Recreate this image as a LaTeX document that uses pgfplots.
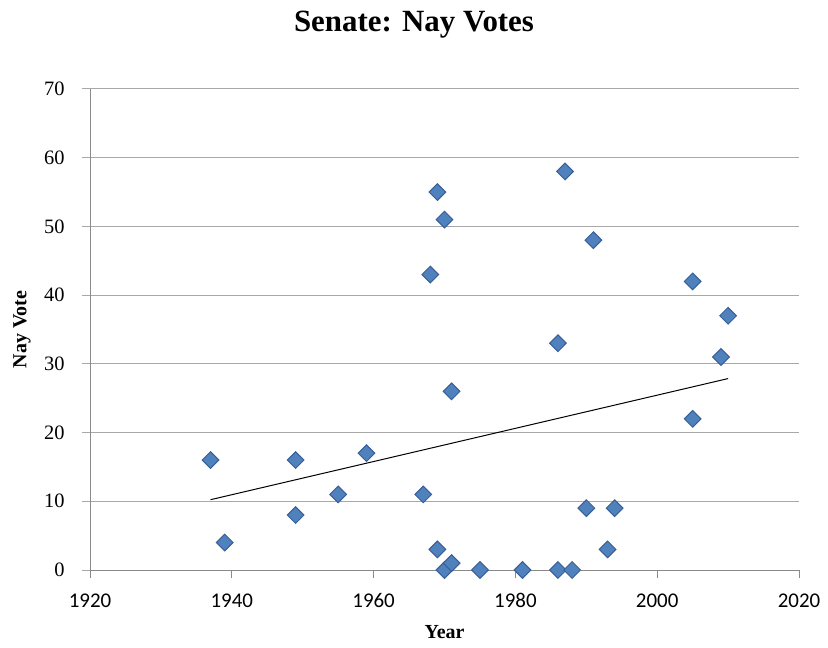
\documentclass[border=0pt]{standalone}
\usepackage{fontspec}
\setmainfont{Liberation Serif}
\newfontfamily\calibri{Carlito}
\usepackage{pgfplots}
\usepackage{pgfplotstable}
\pgfplotsset{compat=1.18}
\definecolor{markfill}{HTML}{4F81BD}
\definecolor{markedge}{HTML}{3A5E96}
\definecolor{gridc}{HTML}{A8A8A8}
\definecolor{axisc}{HTML}{8A8A8A}
\pgfplotstableread{
x y
1937 16
1939 4
1949 16
1949 8
1955 11
1959 17
1967 11
1968 43
1969 55
1969 3
1970 51
1970 0
1971 26
1971 1
1975 0
1981 0
1986 33
1986 0
1987 58
1988 0
1990 9
1991 48
1993 3
1994 9
2005 42
2005 22
2009 31
2010 37
}\navdata
\begin{document}
\begin{tikzpicture}
\path[use as bounding box] (0,0) rectangle (828bp,648bp);
\begin{axis}[
  at={(90bp,78bp)}, anchor=south west,
  scale only axis, width=709bp, height=481bp,
  xmin=1920, xmax=2020, ymin=0, ymax=70,
  xtick={1920,1940,...,2020}, ytick={0,10,...,70},
  axis x line*=bottom, axis y line*=left,
  axis line style={draw=axisc, line width=1bp, -},
  ymajorgrids, grid style={draw=gridc, line width=1bp},
  tick align=outside,
  major tick length=8bp,
  x tick style={draw=axisc, line width=1bp},
  y tick style={draw=gridc, line width=1bp},
  /pgf/number format/1000 sep={},
  /pgf/number format/assume math mode=true,
  xticklabel style={font=\calibri\fontsize{21}{25}\selectfont, yshift=-12bp},
  yticklabel style={font=\fontsize{20.5}{24}\selectfont, xshift=-14bp},
  title={Senate: Nay Votes},
  title style={font=\bfseries\fontsize{31}{36}\selectfont, at={(axis description cs:0.457,1)}, anchor=center, yshift=58bp},
  xlabel={Year},
  ylabel={Nay Vote},
  every axis x label/.style={at={(axis description cs:0.5,0)}, anchor=center, yshift=-62bp, font=\bfseries\fontsize{20}{24}\selectfont},
  every axis y label/.style={at={(axis description cs:0,0.5)}, xshift=-68bp, anchor=center, rotate=90, font=\bfseries\fontsize{20}{24}\selectfont},
  clip=false,
]
\addplot[black, line width=1bp, no marks] table[x=x, y={create col/linear regression={y=y}}] {\navdata};
\addplot[only marks, mark=square*, mark size=5.9bp,
  mark options={rotate=45, fill=markfill, draw=markedge, line width=1bp}] table[x=x, y=y] {\navdata};
\end{axis}
\end{tikzpicture}
\end{document}
